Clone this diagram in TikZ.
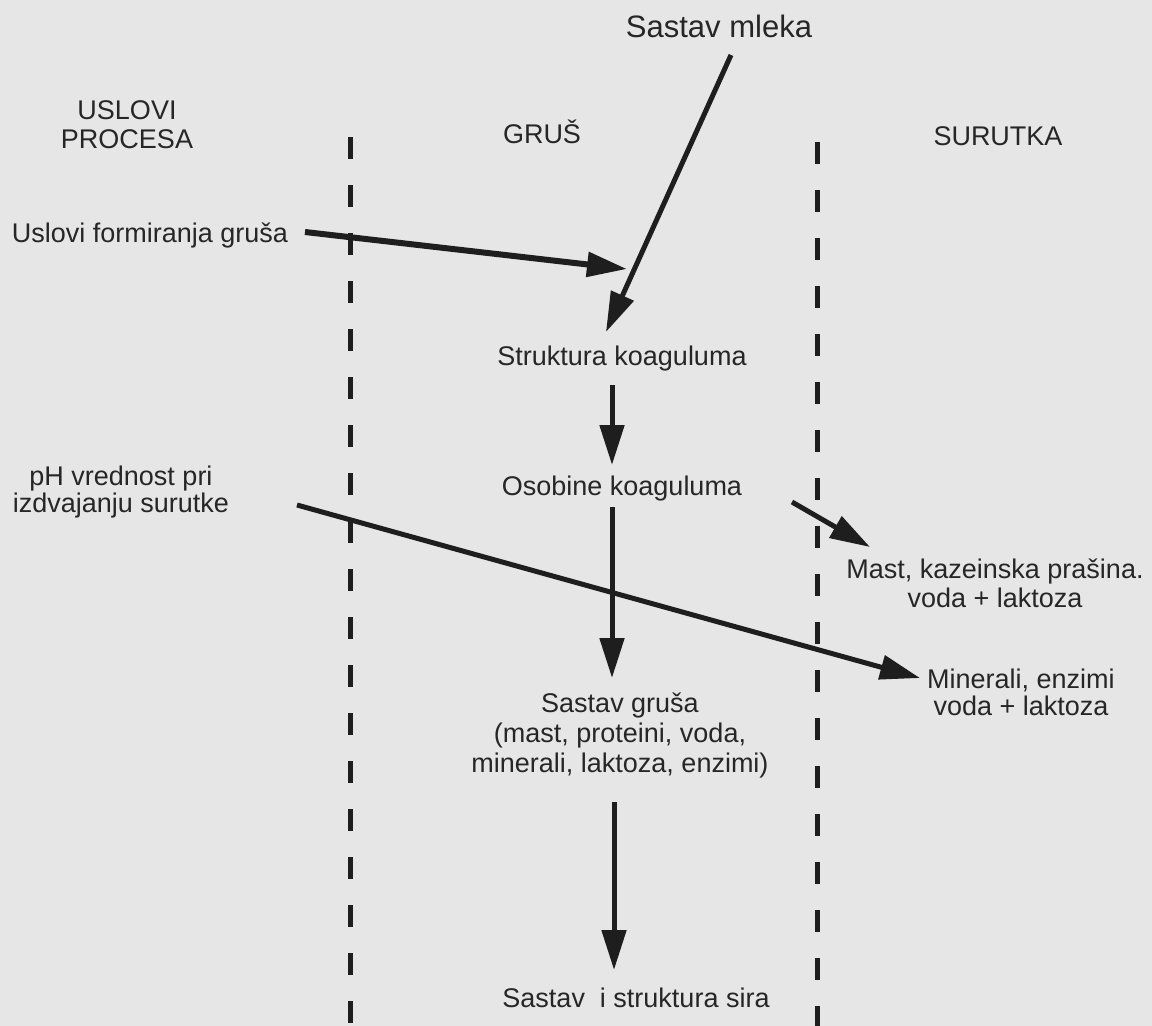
\documentclass[tikz,border=0pt]{standalone}
\usepackage{fontspec}
\setmainfont{Liberation Sans}
\usetikzlibrary{arrows.meta}
\definecolor{paper}{HTML}{E6E6E6}
\definecolor{ink}{HTML}{1E1E1E}
\definecolor{txt}{HTML}{262626}
\tikzset{
  lbl/.style={text=txt, inner sep=0pt, anchor=base, align=center, font=\fontsize{27}{28.5}\selectfont},
  biglbl/.style={lbl, font=\fontsize{31}{33}\selectfont},
  flow/.style={draw=ink, line width=5pt, -{Triangle[length=40pt,width=24pt]}},
  divider/.style={draw=ink, line width=5pt, dash pattern=on 22pt off 26pt}
}
\begin{document}
\begin{tikzpicture}[x=1pt,y=-1pt]
\fill[paper] (0,0) rectangle (1152,1026);
\useasboundingbox (0,0) rectangle (1152,1026);

% dividers
\coordinate (dlt) at (350,137);
\coordinate (dlb) at (350,1026);
\coordinate (drt) at (817,142);
\coordinate (drb) at (817,1026);
\draw[divider] (dlt) -- (dlb);
\draw[divider] (drt) -- (drb);

% labels (base anchor = baseline of the last line)
\node[biglbl] (mleko) at (719,37) {Sastav mleka};
\node[lbl, font=\fontsize{27}{29}\selectfont] (uslovi) at (127,148) {USLOVI\\PROCESA};
\node[lbl] (grus) at (542,143) {GRUŠ};
\node[lbl] (surutka) at (998,145) {SURUTKA};
\node[lbl] (formir) at (150,242) {Uslovi formiranja gruša};
\node[lbl] (struk) at (622,365) {Struktura koaguluma};
\node[lbl] (osob) at (622,495) {Osobine koaguluma};
\node[lbl, font=\fontsize{27}{27}\selectfont] (ph) at (121,512) {pH vrednost pri\\izdvajanju surutke};
\node[lbl, font=\fontsize{27}{29}\selectfont] (mast) at (995,607) {Mast, kazeinska prašina.\\voda + laktoza};
\node[lbl, font=\fontsize{27}{27}\selectfont] (miner) at (1021,715) {Minerali, enzimi\\voda + laktoza};
\node[lbl, font=\fontsize{27}{30}\selectfont] (sgrus) at (620,772) {Sastav gruša\\(mast, proteini, voda,\\minerali, laktoza, enzimi)};
\node[lbl] (sir) at (636,1007) {Sastav\ \ i struktura sira};

% connector ends
\coordinate (a1s) at (731,55);
\coordinate (a1e) at (606,332);
\coordinate (a2s) at (305,232);
\coordinate (a2e) at (627,269);
\coordinate (a3s) at (612,385);
\coordinate (a3e) at (612,465);
\coordinate (a4s) at (612,507);
\coordinate (a4e) at (612,678);
\coordinate (a5s) at (297,505);
\coordinate (a5e) at (920,678);
\coordinate (a6s) at (792,502);
\coordinate (a6e) at (870,547);
\coordinate (a7s) at (614,802);
\coordinate (a7e) at (614,970);

\draw[flow] (a1s) -- (a1e);
\draw[flow, line width=6pt] (a2s) -- (a2e);
\draw[flow] (a3s) -- (a3e);
\draw[flow] (a4s) -- (a4e);
\draw[flow] (a5s) -- (a5e);
\draw[flow] (a6s) -- (a6e);
\draw[flow] (a7s) -- (a7e);
\end{tikzpicture}
\end{document}
